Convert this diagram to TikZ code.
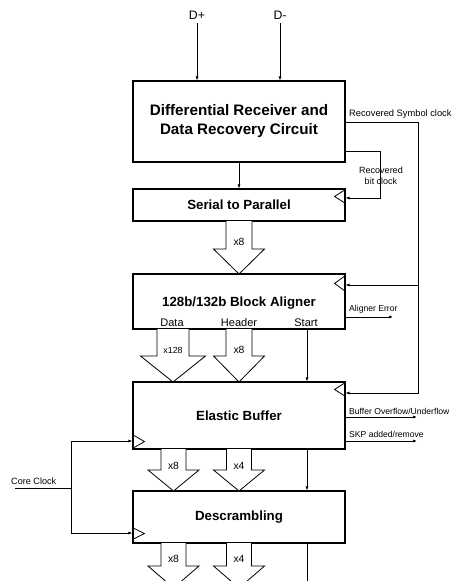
\documentclass[tikz,border=0pt]{standalone}
\usepackage{fontspec}
\setmainfont{Liberation Sans}
\usetikzlibrary{arrows.meta}
\newcommand\fatarrow[7]{% centre x, top y, half shaft, half head, head y, tip y, name
  \draw[fat] ({#1-#3},#2) -- ({#1-#3},#5) -- ({#1-#4},#5) -- (#1,#6)
    -- ({#1+#4},#5) -- ({#1+#3},#5) -- ({#1+#3},#2);
}
\tikzset{
  blk/.style={draw, line width=1.1pt, minimum width=212pt, inner sep=0pt,
    font=\fontsize{13.3}{15}\selectfont\bfseries},
  wire/.style={line width=0.7pt},
  sig/.style={wire, -{Latex[length=4pt,width=3pt]}},
  fat/.style={line width=0.8pt, fill=white, line join=miter},
  clk/.style={line width=0.8pt},
  lbl/.style={font=\fontsize{8.6}{10}\selectfont, inner sep=0pt},
  mult/.style={font=\fontsize{10.4}{12}\selectfont, inner sep=0pt},
  port/.style={font=\fontsize{11}{13}\selectfont, inner sep=0pt},
}
\begin{document}
\begin{tikzpicture}[x=1pt,y=-1pt]
\clip (0,0) rectangle (453,581);
\useasboundingbox (0,0) rectangle (453,581);

% processing blocks
\node[blk, minimum height=81pt, align=center,
  font=\fontsize{15.2}{19}\selectfont\bfseries] (rx) at (239,121.5)
  {Differential Receiver and\\Data Recovery Circuit};
\node[blk, minimum height=32pt] (sp) at (239,205) {Serial to Parallel};
\node[blk, minimum height=55pt] (al) at (239,301.5) {};
\node[blk, minimum height=67pt] (eb) at (239,415.5) {Elastic Buffer};
\node[blk, minimum height=52pt] (ds) at (239,517) {Descrambling};
\node[font=\fontsize{13.3}{15}\selectfont\bfseries, inner sep=0pt] (altitle) at (239,303) {128b/132b Block Aligner};
\node[port] (aldata) at (172,323) {Data};
\node[port] (alhdr) at (239,323) {Header};
\node[port] (alstart) at (306,323) {Start};

% differential inputs
\node[font=\fontsize{12.3}{14}\selectfont, inner sep=0pt] (dplus) at (197,15) {D+};
\node[font=\fontsize{12.3}{14}\selectfont, inner sep=0pt] (dminus) at (280,15) {D-};
\draw[sig] ([yshift=-4pt]dplus.south) -- (dplus.south |- rx.north);
\draw[sig] ([yshift=-4pt]dminus.south) -- (dminus.south |- rx.north);

\draw[sig] (rx) -- (sp);

% clock inputs (triangles on the block edges)
\draw[clk] (sp.north east) ++(0,1) -- ++(-11,7) -- ++(11,7);
\draw[clk] (al.north east) ++(0,2) -- ++(-11,8) -- ++(11,8);
\draw[clk] (eb.north east) ++(0,1) -- ++(-11,7) -- ++(11,7);
\draw[clk] (eb.south west) ++(0,-15) -- ++(12,7) -- ++(-12,7);
\draw[clk] (ds.south west) ++(0,-16) -- ++(12,6) -- ++(-12,6);

% recovered bit clock
\coordinate (bca) at (380,151);
\coordinate (bcb) at (380,198);
\draw[sig] (rx.east |- bca) -- (bca) -- (bcb) -- (sp.east |- bcb);
\node[lbl, font=\fontsize{9}{11}\selectfont, align=center] (bclbl) at (381,175.5) {Recovered\\bit clock};

% recovered symbol clock
\coordinate (sca) at (418,122);
\coordinate (scb) at (418,393);
\coordinate (scc) at (418,285);
\draw[sig] (rx.east |- sca) -- (sca) -- (scb) -- (eb.east |- scb);
\draw[sig] (scc) -- (al.east |- scc);
\node[lbl, font=\fontsize{9.3}{11}\selectfont, anchor=west] (sclbl) at (349,114) {Recovered Symbol clock};

% status outputs
\coordinate (aerr) at (393,317);
\draw[sig] (al.east |- aerr) -- (aerr);
\node[lbl, anchor=west] (aerrlbl) at (349,309) {Aligner Error};
\coordinate (ovf) at (417,417);
\draw[sig] (eb.east |- ovf) -- (ovf);
\node[lbl, anchor=west] (ovflbl) at (349,411) {Buffer Overflow/Underflow};
\coordinate (skp) at (417,441);
\draw[sig] (eb.east |- skp) -- (skp);
\node[lbl, anchor=west] (skplbl) at (349,434.5) {SKP added/remove};

% start / control path
\coordinate (ctl) at (307,0);
\coordinate (ctlend) at (307,590);
\draw[sig] (al.south -| ctl) -- (eb.north -| ctl);
\draw[sig] (eb.south -| ctl) -- (ds.north -| ctl);
\draw[wire] (ds.south -| ctl) -- (ctlend);

% core clock
\coordinate (ccin) at (15,488);
\coordinate (ccj) at (71,488);
\coordinate (cct) at (71,441);
\coordinate (ccb) at (71,533);
\draw[wire] (ccin) -- (ccj);
\draw[sig] (ccj) -- (cct) -- (eb.west |- cct);
\draw[sig] (ccj) -- (ccb) -- (ds.west |- ccb);
\node[lbl, font=\fontsize{9.1}{11}\selectfont, anchor=west] (cclbl) at (11,481.5) {Core Clock};

% parallel buses
\fatarrow{239}{221}{13}{25.5}{249}{274}{}
\node[mult] (m1) at (239,241.5) {x8};
\fatarrow{173}{329}{16}{32.5}{356}{382}{}
\node[mult, font=\fontsize{8.8}{10}\selectfont] (m2) at (173,350.5) {x128};
\fatarrow{239}{329}{13}{25.5}{356}{382}{}
\node[mult] (m3) at (239,350) {x8};
\fatarrow{173.5}{449}{12.5}{25.5}{470}{491}{}
\node[mult] (m4) at (173.5,465.5) {x8};
\fatarrow{239}{449}{12.5}{25.5}{470}{491}{}
\node[mult] (m5) at (239,465.5) {x4};
\fatarrow{173.5}{543}{12.5}{25.5}{566}{588}{}
\node[mult] (m6) at (173.5,559) {x8};
\fatarrow{239}{543}{12.5}{25.5}{566}{588}{}
\node[mult] (m7) at (239,559) {x4};
\end{tikzpicture}
\end{document}
